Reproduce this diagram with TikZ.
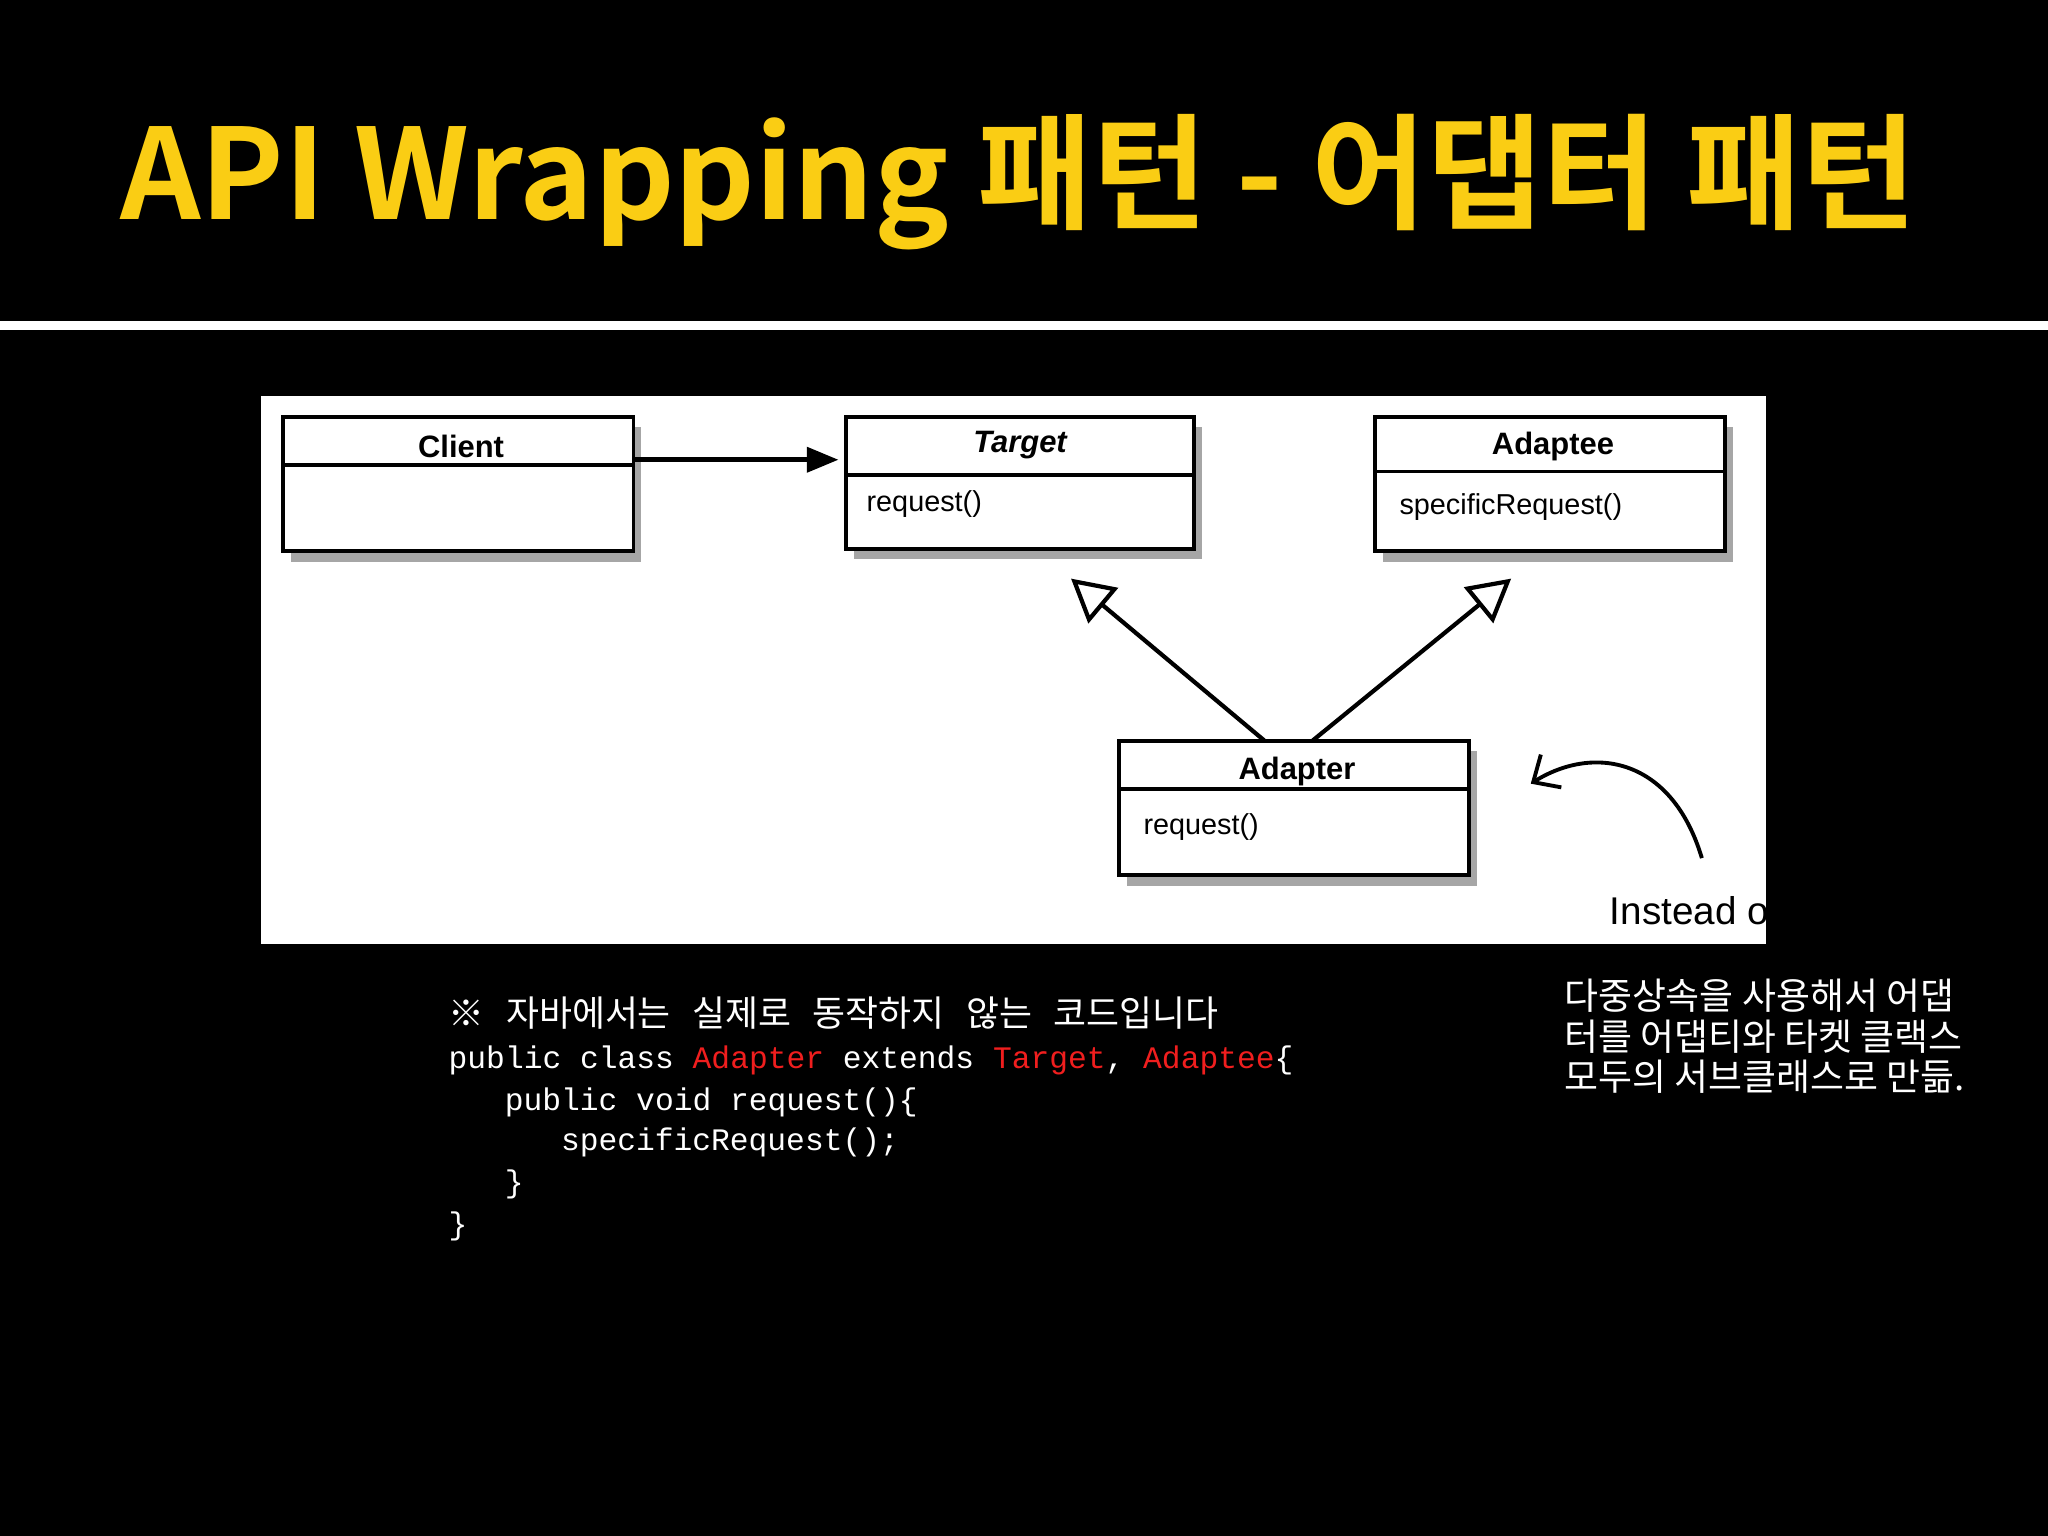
\documentclass[tikz,border=0pt]{standalone}
\usepackage{fontspec}
\setmainfont{Liberation Sans}
\newfontfamily\kr{Noto Sans CJK KR}
\newfontfamily\krb{Noto Sans CJK KR Bold}
\newfontfamily\cde{Liberation Mono}
\usetikzlibrary{arrows.meta}
\definecolor{ttl}{RGB}{250,205,20}
\definecolor{cred}{RGB}{240,30,30}
\tikzset{
 cls/.style={draw=black,line width=1.1pt,fill=white},
 lbl/.style={font=\fontsize{8.8}{11}\selectfont\bfseries},
 opl/.style={font=\fontsize{8.2}{10}\selectfont,anchor=west},
 code/.style={font=\cde\fontsize{8.9}{11}\selectfont,text=white,anchor=base west,inner sep=0},
 note/.style={font=\kr\fontsize{10.5}{12}\selectfont,text=white,anchor=base west,inner sep=0}
}
\begin{document}
\begin{tikzpicture}[x=0.01306cm,y=-0.01306cm]
\fill[black] (0,0) rectangle (1568,1176);
\useasboundingbox (0,0) rectangle (1568,1176);
\node[text=ttl,font=\krb\fontsize{35.7}{38}\selectfont,anchor=base] (title) at (780,168) {API Wrapping 패턴 - 어댑터 패턴};
\fill[white] (0,246) rectangle (1568,253);
\fill[white] (200,303) rectangle (1352,723);
\foreach \a/\b/\c/\d in {217/319/485/422,648/319/914/420,1053/319/1321/422,857/567/1125/670}
  \fill[black!35] (\a+6,\b+8) rectangle (\c+6,\d+8);
\draw[cls] (217,319) rectangle (485,422); \draw[line width=1.1pt] (217,356)--(485,356);
\draw[cls] (648,319) rectangle (914,420); \draw[line width=1.1pt] (648,364)--(914,364);
\draw[cls] (1053,319) rectangle (1321,422); \draw[line width=1.1pt] (1053,361)--(1321,361);
\draw[cls] (857,567) rectangle (1125,670); \draw[line width=1.1pt] (857,604)--(1125,604);
\node[lbl] (client) at (353,342) {Client};
\node[lbl,font=\fontsize{8.8}{11}\selectfont\bfseries\itshape] (target) at (781,341) {Target};
\node[lbl] (adaptee) at (1189,342) {Adaptee};
\node[lbl] (adapter) at (993,591) {Adapter};
\node[opl] (treq) at (654,386) {request()};
\node[opl] (sreq) at (1062,388) {specificRequest()};
\node[opl] (areq) at (866,633) {request()};
\coordinate (c1) at (485,352); \coordinate (t1) at (642,352);
\draw[line width=1.4pt,-{Triangle[length=9pt,width=7pt]}] (c1)--(t1);
\coordinate (a1) at (968,567); \coordinate (a2) at (820,443);
\coordinate (b1) at (1005,567); \coordinate (b2) at (1157,443);
\draw[line width=1.2pt,-{Triangle[open,length=12pt,width=13pt]}] (a1)--(a2);
\draw[line width=1.2pt,-{Triangle[open,length=12pt,width=13pt]}] (b1)--(b2);
\coordinate (h1) at (1303,657); \coordinate (h2) at (1172,600);
\draw[line width=1.1pt,-{Straight Barb[length=6pt,width=11pt]}] (h1) .. controls (1280,580) and (1220,570) .. (h2);
\begin{scope}
\clip (200,303) rectangle (1352,723);
\node[font=\fontsize{11}{13}\selectfont,anchor=base west,inner sep=0] (inst) at (1232,708) {Instead of};
\end{scope}
\node[code,font=\kr\fontsize{10.2}{12}\selectfont] (l0) at (343,786) {※\hspace{0.6em}자바에서는\hspace{0.6em}실제로\hspace{0.6em}동작하지\hspace{0.6em}않는\hspace{0.6em}코드입니다};
\node[code] (l1) at (343,818) {public class {\color{cred}Adapter} extends {\color{cred}Target}, {\color{cred}Adaptee}\{};
\node[code] (l2) at (386,850) {public void request()\{};
\node[code] (l3) at (429,881) {specificRequest();};
\node[code] (l4) at (386,913) {\}};
\node[code] (l5) at (343,945) {\}};
\node[note] (n1) at (1197,773) {다중상속을 사용해서 어댑};
\node[note] (n2) at (1197,804) {터를 어댑티와 타켓 클랙스};
\node[note] (n3) at (1197,835) {모두의 서브클래스로 만듦.};
\end{tikzpicture}
\end{document}
